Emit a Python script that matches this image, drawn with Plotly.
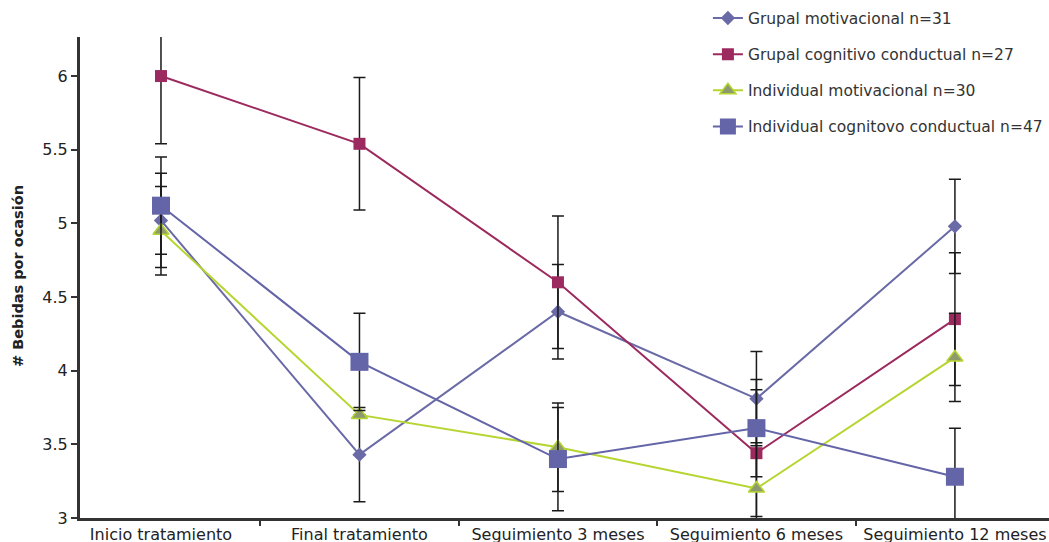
import plotly.graph_objects as go

categories = ["Inicio tratamiento", "Final tratamiento", "Seguimiento 3 meses",
              "Seguimiento 6 meses", "Seguimiento 12 meses"]

series_names = ["Grupal motivacional n=31", "Grupal cognitivo conductual n=27",
                "Individual motivacional n=30", "Individual cognitovo conductual n=47"]

grupal_motivacional = [5.02, 3.43, 4.40, 3.81, 4.98]
grupal_motivacional_err = [0.32, 0.32, 0.32, 0.32, 0.32]

grupal_cognitivo = [6.00, 5.54, 4.60, 3.44, 4.35]
grupal_cognitivo_err = [0.46, 0.45, 0.45, 0.43, 0.45]

individual_motivacional = [4.95, 3.70, 3.48, 3.20, 4.09]
individual_motivacional_err = [0.30, 0.0, 0.30, 0.31, 0.30]

individual_cognitivo = [5.12, 4.06, 3.40, 3.61, 3.28]
individual_cognitivo_err = [0.33, 0.33, 0.35, 0.33, 0.33]

y_ticks = [3, 3.5, 4, 4.5, 5, 5.5, 6]

FONT = "DejaVu Sans"

styles = [
    dict(color="#6a6aa6", mcolor="#6a6aa6", symbol="diamond", size=11, lw=2),
    dict(color="#9c2a5e", mcolor="#9c2a5e", symbol="square", size=12, lw=2),
    dict(color="#b5d530", mcolor="#8e9a6e", symbol="triangle-up", size=14, lw=2),
    dict(color="#6464a8", mcolor="#6464a8", symbol="square", size=18, lw=2),
]

data = [
    (grupal_motivacional, grupal_motivacional_err),
    (grupal_cognitivo, grupal_cognitivo_err),
    (individual_motivacional, individual_motivacional_err),
    (individual_cognitivo, individual_cognitivo_err),
]

fig = go.Figure()
for i, (name, (vals, errs), st) in enumerate(zip(series_names, data, styles)):
    mline = dict(width=1.5, color=st["color"]) if st["symbol"] == "triangle-up" else dict(width=0)
    fig.add_trace(go.Scatter(
        x=categories, y=vals, name=name, mode="lines+markers",
        legendgroup=f"g{i}",
        line=dict(color=st["color"], width=st["lw"]),
        marker=dict(symbol=st["symbol"], size=st["size"], color=st["mcolor"], line=mline),
        error_y=dict(type="data", array=errs, visible=True, color="#1a1a1a",
                     thickness=1.5, width=6),
        cliponaxis=True,
    ))

fig.update_layout(
    width=1049, height=542,
    margin=dict(l=80, r=0, t=37, b=24),
    paper_bgcolor="white", plot_bgcolor="white",
    font=dict(family=FONT, color="#222222"),
    legend=dict(
        x=0.648, y=1.074, xanchor="left", yanchor="top",
        bgcolor="rgba(0,0,0,0)", font=dict(size=15.5, family=FONT, color="#333333"),
        traceorder="grouped", tracegroupgap=13,
    ),
    xaxis=dict(
        type="category", range=[-0.408, 4.474], automargin=False,
        showline=True, linecolor="#333333", linewidth=3,
        ticks="outside", tickson="boundaries", ticklen=5, tickwidth=2, tickcolor="#333333",
        tickfont=dict(size=16, family=FONT, color="#222222"),
        showgrid=False, zeroline=False,
    ),
    yaxis=dict(
        range=[3, 6.265], tickvals=y_ticks, ticktext=[f"{v:g}" for v in y_ticks],
        automargin=False,
        showline=True, linecolor="#333333", linewidth=3,
        ticks="outside", ticklen=6, tickwidth=2, tickcolor="#333333",
        tickfont=dict(size=16, family=FONT, color="#222222"),
        showgrid=False, zeroline=False,
    ),
    annotations=[dict(
        text="<b># Bebidas por ocasión</b>", textangle=-90,
        xref="paper", yref="paper", x=-0.064, y=0.503, xanchor="center", yanchor="middle",
        showarrow=False, font=dict(size=14.5, family=FONT, color="#222222"),
    )],
)

fig.write_html("out.html", config={"displayModeBar": False},
               post_script="document.body.style.margin='0';")
